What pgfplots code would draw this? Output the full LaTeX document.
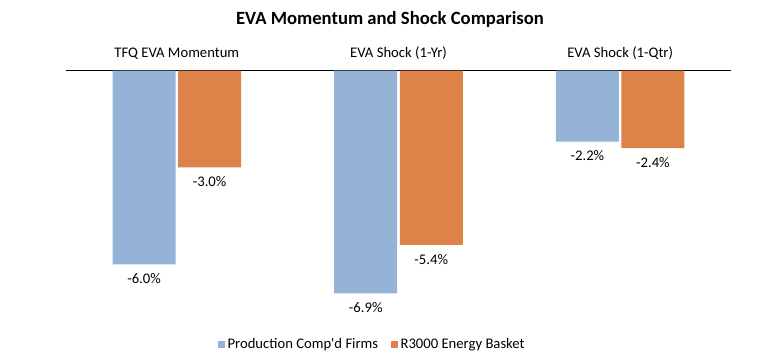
\documentclass[border=0pt]{standalone}
\usepackage{pgfplots}
\pgfplotsset{compat=1.18}
\usepackage{fontspec}
\setmainfont{Carlito}
\definecolor{cblue}{RGB}{149,179,215}
\definecolor{corange}{RGB}{221,131,73}
\begin{document}
\begin{tikzpicture}
\useasboundingbox (-49.5pt,-20.3pt) rectangle (520.5pt,246.7pt);
\begin{axis}[
  at={(0pt,0pt)}, anchor=south west,
  scale only axis, width=498.75pt, height=193.8pt,
  xmin=-0.5, xmax=2.5, ymin=-8, ymax=0,
  ybar=1.9pt, bar width=47.25pt,
  axis x line=top, hide y axis,
  x axis line style={black, line width=0.9pt, -},
  xtick={0,1,2},
  xticklabels={TFQ EVA Momentum, EVA Shock (1-Yr), EVA Shock (1-Qtr)},
  major tick length=0pt,
  xticklabel style={font=\fontsize{11}{13}\selectfont, yshift=4.5pt},
  nodes near coords, point meta=explicit symbolic,
  every node near coord/.append style={font=\fontsize{11}{13}\selectfont, anchor=north, yshift=-3.5pt, text=black},
  legend image code/.code={\fill[#1] (-1.5pt,-2.6pt) rectangle (3.75pt,2.6pt);},
  legend style={at={(0.461,0)}, anchor=center, yshift=-11.8pt, draw=none, legend columns=2,
    font=\fontsize{11}{13}\selectfont, inner sep=0pt,
    /tikz/every even column/.append style={column sep=7.5pt}},
  clip=false,
]
\addplot[fill=cblue, draw=none] coordinates {(0,-6.0) [-6.0\%] (1,-6.9) [-6.9\%] (2,-2.2) [-2.2\%]};
\addplot[fill=corange, draw=none] coordinates {(0,-3.0) [-3.0\%] (1,-5.4) [-5.4\%] (2,-2.4) [-2.4\%]};
\legend{Production Comp\textquotesingle d Firms, R3000 Energy Basket}
\end{axis}
\node[font=\bfseries\fontsize{14}{16}\selectfont] at (243pt,231.8pt) {EVA Momentum and Shock Comparison};
\end{tikzpicture}
\end{document}
